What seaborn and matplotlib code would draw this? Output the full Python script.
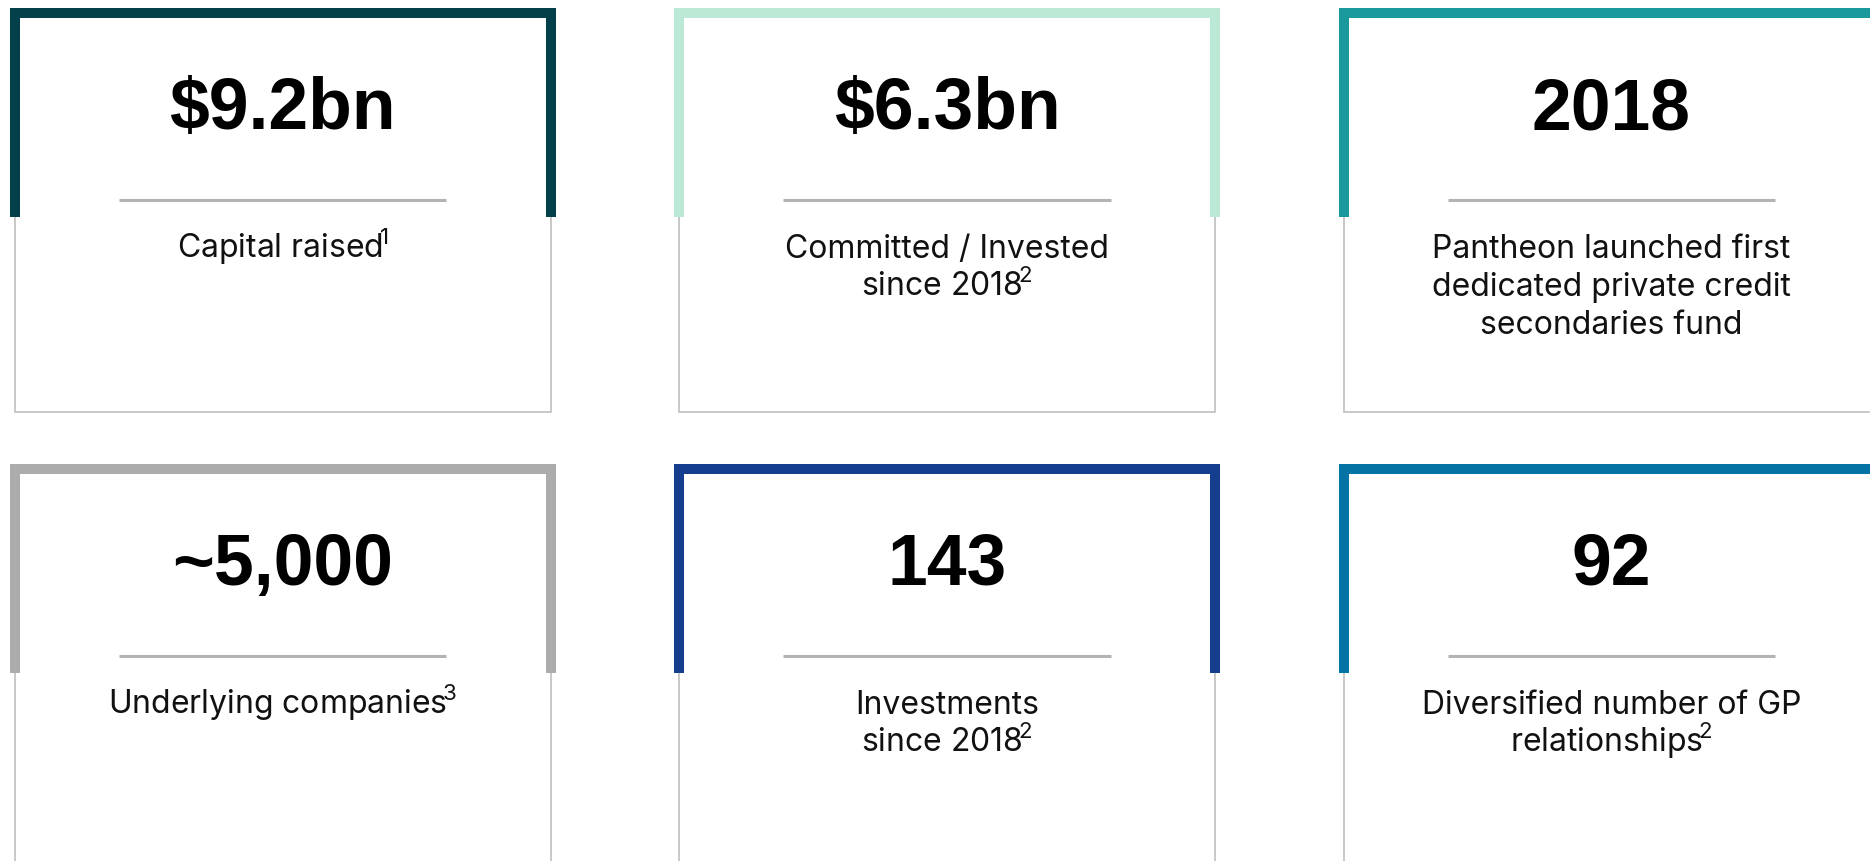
import matplotlib
matplotlib.use("Agg")
import matplotlib.pyplot as plt
import seaborn as sns
from matplotlib.patches import Rectangle

# Card contents, read left-to-right, top-to-bottom
values = ["$9.2bn", "$6.3bn", "2018", "~5,000", "143", "92"]
labels = [
    r"Capital raised$\!^{1}$",
    "Committed / Invested\n" r"since 2018$\!^{2}$",
    "Pantheon launched first\ndedicated private credit\nsecondaries fund",
    r"Underlying companies$\!^{3}$",
    "Investments\n" r"since 2018$\!^{2}$",
    "Diversified number of GP\n" r"relationships$\!^{2}$",
]
accent_colors = ["#04404a", "#bce8d6", "#19999b", "#acacac", "#153e8f", "#0673a5"]

# Layout (pixels)
W, H = 1870, 862
n_cols = 3
col_left, col_pitch = 9.5, 664.5
row_top, row_pitch = 9, 456
card_w, card_h = 546, 404
bar = 10
thick_depth = 209
thin_color = "#c4c4c4"
sep_color = "#b3b3b3"

sns.set_theme(style="white")
plt.rcParams["font.family"] = ["Inter", "DejaVu Sans"]
plt.rcParams["mathtext.fontset"] = "custom"
plt.rcParams["mathtext.rm"] = "Inter"
plt.rcParams["mathtext.it"] = "Inter"
plt.rcParams["mathtext.default"] = "regular"

fig = plt.figure(figsize=(W / 100, H / 100), dpi=100)
ax = fig.add_axes([0, 0, 1, 1])
ax.set_xlim(0, W)
ax.set_ylim(H, 0)
ax.axis("off")

for i, (val, lab, col) in enumerate(zip(values, labels, accent_colors)):
    r, c = divmod(i, n_cols)
    x0 = col_left + c * col_pitch
    x1 = x0 + card_w
    y0 = row_top + r * row_pitch
    xl, xr = x0 + bar / 2, x1 - bar / 2

    # thin outline (sides + bottom)
    yb = y0 + card_h
    ax.plot([xl, xl, xr, xr], [y0 + thick_depth, yb, yb, y0 + thick_depth],
            color=thin_color, lw=1.3, solid_joinstyle="miter", zorder=1)

    # thick accent bracket
    ax.add_patch(Rectangle((x0, y0), card_w, bar, color=col, lw=0, zorder=2))
    ax.add_patch(Rectangle((x0, y0), bar, thick_depth, color=col, lw=0, zorder=2))
    ax.add_patch(Rectangle((x1 - bar, y0), bar, thick_depth, color=col, lw=0, zorder=2))

    xc = (x0 + x1) / 2
    # big number
    ax.text(xc, y0 + 120, val, ha="center", va="baseline", fontsize=51.5,
            fontweight="bold", family=["Liberation Sans", "DejaVu Sans"], color="black")
    # separator
    ax.plot([xc - 0.3 * card_w, xc + 0.3 * card_w], [y0 + 192, y0 + 192],
            color=sep_color, lw=2.2, solid_capstyle="butt")
    # description
    for k, line in enumerate(lab.split("\n")):
        ax.text(xc, y0 + 249 + 38 * k, line, ha="center", va="baseline",
                fontsize=23, color="#111111")

fig.savefig("out.png", dpi=100, facecolor="white")
